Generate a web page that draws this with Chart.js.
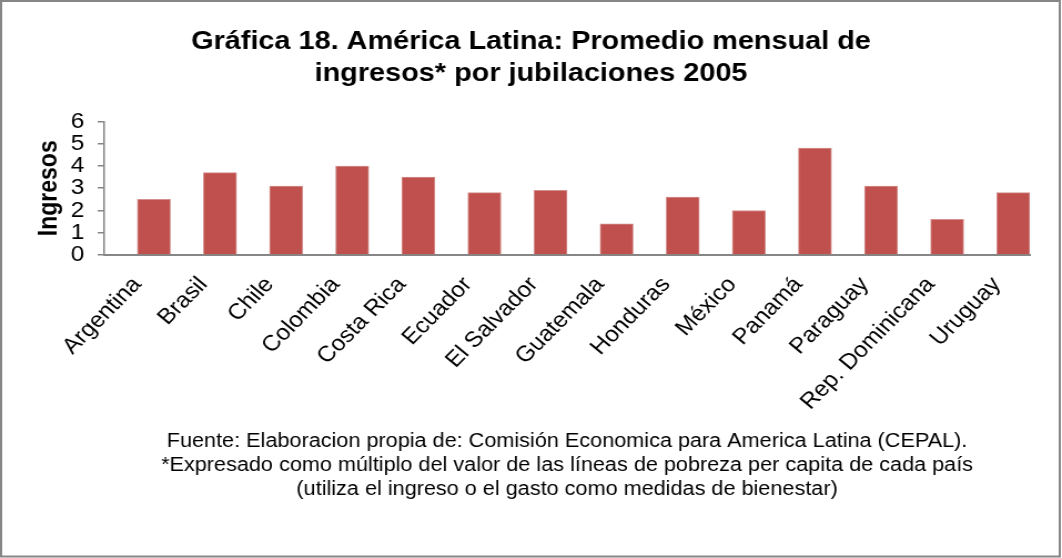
<!DOCTYPE html>
<html lang="es">
<head>
<meta charset="utf-8">
<title>Gráfica 18</title>
<script src="https://cdn.jsdelivr.net/npm/chart.js@4.4.1/dist/chart.umd.min.js"></script>
<style>
  html, body { margin: 0; padding: 0; background: #fff; overflow: hidden; }
  /* the chart is laid out narrower and stretched sideways, like the original figure */
  #marco {
    position: absolute; left: 0; top: 0;
    width: 957px; height: 558px;
    transform: scaleX(1.1097);
    transform-origin: 0 0;
  }
</style>
</head>
<body>
<div id="marco"><canvas id="grafica"></canvas></div>
<script>
// Datos
const paises = ["Argentina", "Brasil", "Chile", "Colombia", "Costa Rica", "Ecuador", "El Salvador",
  "Guatemala", "Honduras", "México", "Panamá", "Paraguay", "Rep. Dominicana", "Uruguay"];
const ingresos = [2.5, 3.7, 3.1, 4.0, 3.5, 2.8, 2.9, 1.4, 2.6, 2.0, 4.8, 3.1, 1.6, 2.8];
const ejeMin = 0;
const ejeMax = 6;
const ejePaso = 1;

const titulo = ["Gráfica 18. América Latina: Promedio mensual de", "ingresos* por jubilaciones 2005"];
const notas = [
  "Fuente: Elaboracion propia de: Comisión Economica para America Latina (CEPAL).",
  "*Expresado como múltiplo del valor de las líneas de pobreza per capita de cada país",
  "(utiliza el ingreso o el gasto como medidas de bienestar)"
];

const fuente = "'Liberation Sans', Arial, sans-serif";
const gris = "#868686";

// grey frame round the whole figure
const marcoPlugin = {
  id: "marco",
  afterDraw(chart) {
    const ctx = chart.ctx;
    ctx.save();
    ctx.strokeStyle = gris;
    ctx.lineWidth = 2;
    ctx.strokeRect(1, 1, chart.width - 3, chart.height - 2.5);
    ctx.restore();
  }
};

const ctx = document.getElementById("grafica").getContext("2d");
new Chart(ctx, {
  type: "bar",
  data: {
    labels: paises,
    datasets: [
      // empty first series: keeps each bar in the right half of its category
      { label: "", data: [] },
      {
        label: "Ingresos",
        data: ingresos,
        backgroundColor: "#C0504D",
        borderColor: "#D3908E",
        borderWidth: 1
      }
    ]
  },
  options: {
    responsive: true,
    maintainAspectRatio: false,
    animation: false,
    categoryPercentage: 1,
    barPercentage: 1,
    layout: { padding: 0 },
    plugins: {
      legend: { display: false },
      tooltip: { enabled: false },
      title: {
        display: true,
        text: titulo,
        color: "#000",
        font: { family: fuente, size: 26, weight: "bold", lineHeight: 1.22 },
        padding: { top: 26, bottom: 32 }
      }
    },
    scales: {
      x: {
        grid: { display: false, drawTicks: false },
        border: { display: true, color: gris, width: 2 },
        ticks: {
          color: "#000",
          font: { family: fuente, size: 22 },
          minRotation: 48,
          maxRotation: 48,
          autoSkip: false,
          padding: 17
        },
        title: {
          display: true,
          text: notas,
          color: "#000",
          font: { family: fuente, size: 19.5, lineHeight: 1.23 },
          padding: { top: 0, bottom: 56 }
        },
        afterFit(scale) { scale.height = 303; }
      },
      y: {
        min: ejeMin,
        max: ejeMax,
        grid: {
          drawOnChartArea: false,
          drawTicks: true,
          tickLength: 6,
          color: gris,
          lineWidth: 1.5
        },
        border: { display: true, color: gris, width: 1.5 },
        ticks: {
          stepSize: ejePaso,
          autoSkip: false,
          color: "#000",
          font: { family: fuente, size: 22 },
          padding: 12
        },
        title: {
          display: true,
          text: "Ingresos",
          color: "#000",
          font: { family: fuente, size: 23, weight: "bold", lineHeight: 1.2 },
          padding: { top: 31, bottom: 0 }
        },
        afterFit(scale) { scale.width = 94; }
      },
      // blank right margin, so the title stays centred on the whole figure
      margen: {
        type: "linear",
        position: "right",
        grid: { display: false, drawTicks: false },
        border: { display: false },
        ticks: { display: false },
        afterFit(scale) { scale.width = 29; }
      }
    }
  },
  plugins: [marcoPlugin]
});
</script>
</body>
</html>
